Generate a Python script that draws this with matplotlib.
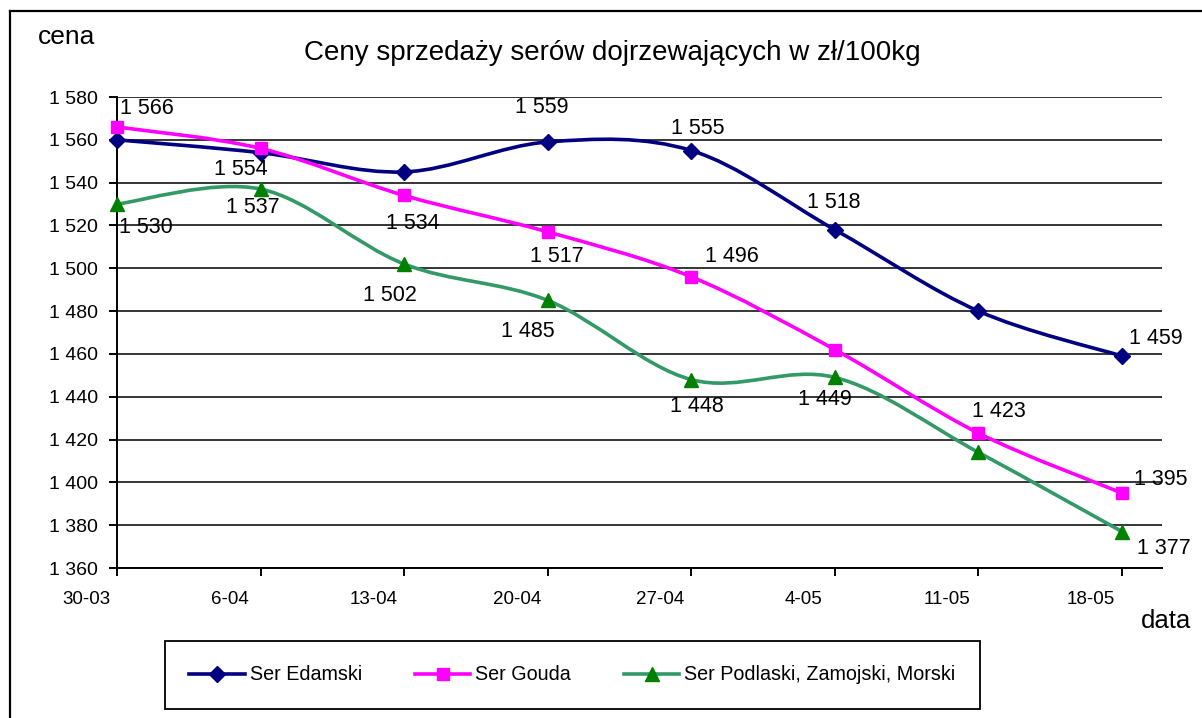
import numpy as np
import matplotlib
matplotlib.use("Agg")
import matplotlib.pyplot as plt
from matplotlib.path import Path
from matplotlib.patches import PathPatch
from matplotlib.lines import Line2D
from matplotlib.transforms import ScaledTranslation
from matplotlib.ticker import FuncFormatter

plt.rcParams['font.family'] = ['Liberation Sans', 'DejaVu Sans']

# dane
daty = ["30-03", "6-04", "13-04", "20-04", "27-04", "4-05", "11-05", "18-05"]
edamski = [1560, 1554, 1545, 1559, 1555, 1518, 1480, 1459]
gouda = [1566, 1556, 1534, 1517, 1496, 1462, 1423, 1395]
podlaski = [1530, 1537, 1502, 1485, 1448, 1449, 1414, 1377]

# ktore punkty maja etykiety (jak na oryginale)
etyk_edamski = [False, True, False, True, True, True, False, True]
etyk_gouda = [True, False, True, True, True, False, True, True]
etyk_podlaski = [True, True, True, True, True, True, False, True]

# przesuniecia etykiet w pikselach (x, y w gore)
off_edamski = [None, (-20, -17), None, (-6, 34), (6, 22), (-1, 27), None, (34, 18)]
off_gouda = [(30, 18), None, (9, -28), (9, -25), (41, 20), None, (20, 22), (39, 14)]
off_podlaski = [(29, -23), (-8, -18), (-14, -32), (-20, -31), (6, -27), (-10, -22), None, (42, -17)]


def fmt(v, pos=None):
    return "{:,}".format(int(v)).replace(",", " ")


def gladka(xs, ys):
    # krzywa jak "wygladzona linia" w Excelu
    p = np.column_stack([xs, ys]).astype(float)
    n = len(p)
    verts = [p[0]]
    codes = [Path.MOVETO]
    for i in range(n - 1):
        p0 = p[i - 1] if i > 0 else p[i]
        p3 = p[i + 2] if i + 2 < n else p[i + 1]
        verts += [p[i] + (p[i + 1] - p0) / 6, p[i + 1] - (p3 - p[i]) / 6, p[i + 1]]
        codes += [Path.CURVE4] * 3
    return Path(verts, codes)


W, H = 1202, 718
fig = plt.figure(figsize=(W / 100, H / 100), dpi=100)
ax = fig.add_axes([117 / W, 1 - 568 / H, (1162 - 117) / W, (568 - 97) / H])

x = np.arange(len(daty))
serie = [
    ("Ser Edamski", edamski, "#000080", "#000080", "D", 8.5, etyk_edamski, off_edamski),
    ("Ser Gouda", gouda, "#FF00FF", "#FF00FF", "s", 8.5, etyk_gouda, off_gouda),
    ("Ser Podlaski, Zamojski, Morski", podlaski, "#339966", "#008000", "^", 10.5, etyk_podlaski, off_podlaski),
]

uchwyty = []
for nazwa, y, kol, kol_m, mk, ms, etyk, off in serie:
    ax.add_patch(PathPatch(gladka(x, y), facecolor="none", edgecolor=kol, lw=2.6, zorder=3))
    ax.plot(x, y, linestyle="none", marker=mk, ms=ms, color=kol_m, zorder=4, clip_on=False)
    for i, v in enumerate(y):
        if etyk[i]:
            ax.annotate(fmt(v), (x[i], v), xytext=off[i], textcoords="offset pixels",
                        ha="center", va="center", fontsize=15.5, zorder=5)
    uchwyty.append(Line2D([], [], color=kol, lw=2.6, marker=mk, ms=ms,
                          markerfacecolor=kol_m, markeredgecolor=kol_m, label=nazwa))

ax.set_xlim(0, 7 + 40 / 143.6)
ax.set_ylim(1360, 1580)
ax.set_yticks(np.arange(1360, 1581, 20))
ax.yaxis.set_major_formatter(FuncFormatter(fmt))
ax.set_xticks(x)
ax.set_xticklabels(daty)
ax.grid(axis="y", color="black", lw=1.1, zorder=1)
ax.set_axisbelow(True)
for s in ["top", "right"]:
    ax.spines[s].set_visible(False)
for s in ["left", "bottom"]:
    ax.spines[s].set_linewidth(1.4)
ax.tick_params(axis="y", direction="out", length=5.5, width=1.4, pad=8, labelsize=14)
ax.tick_params(axis="x", direction="out", length=5.5, width=1.4, pad=11, labelsize=13.5)
for lab in ax.get_xticklabels():
    lab.set_transform(lab.get_transform() + ScaledTranslation(-0.31, 0, fig.dpi_scale_trans))

fig.text(612 / W, 1 - 60 / H, "Ceny sprzedaży serów dojrzewających w zł/100kg",
         ha="center", va="baseline", fontsize=20)
fig.text(38 / W, 1 - 44 / H, "cena", ha="left", va="baseline", fontsize=19)
fig.text(1141 / W, 1 - 628 / H, "data", ha="left", va="baseline", fontsize=18.5)

leg = fig.legend(handles=uchwyty, loc="center", ncol=3,
                 bbox_to_anchor=(572.5 / W, 1 - 675 / H), bbox_transform=fig.transFigure,
                 fontsize=14.2, frameon=True, fancybox=False, framealpha=1,
                 edgecolor="black", handlelength=2.8, handletextpad=0.25,
                 columnspacing=2.7, borderpad=1.25)
leg.get_frame().set_linewidth(1.3)

# ramka wokol calego wykresu
fig.add_artist(Line2D([9.5 / W, 9.5 / W], [0, 1 - 11 / H], color="black", lw=1.6))
fig.add_artist(Line2D([9.5 / W, 1], [1 - 11 / H, 1 - 11 / H], color="black", lw=1.6))

fig.savefig("out.png", dpi=100)
